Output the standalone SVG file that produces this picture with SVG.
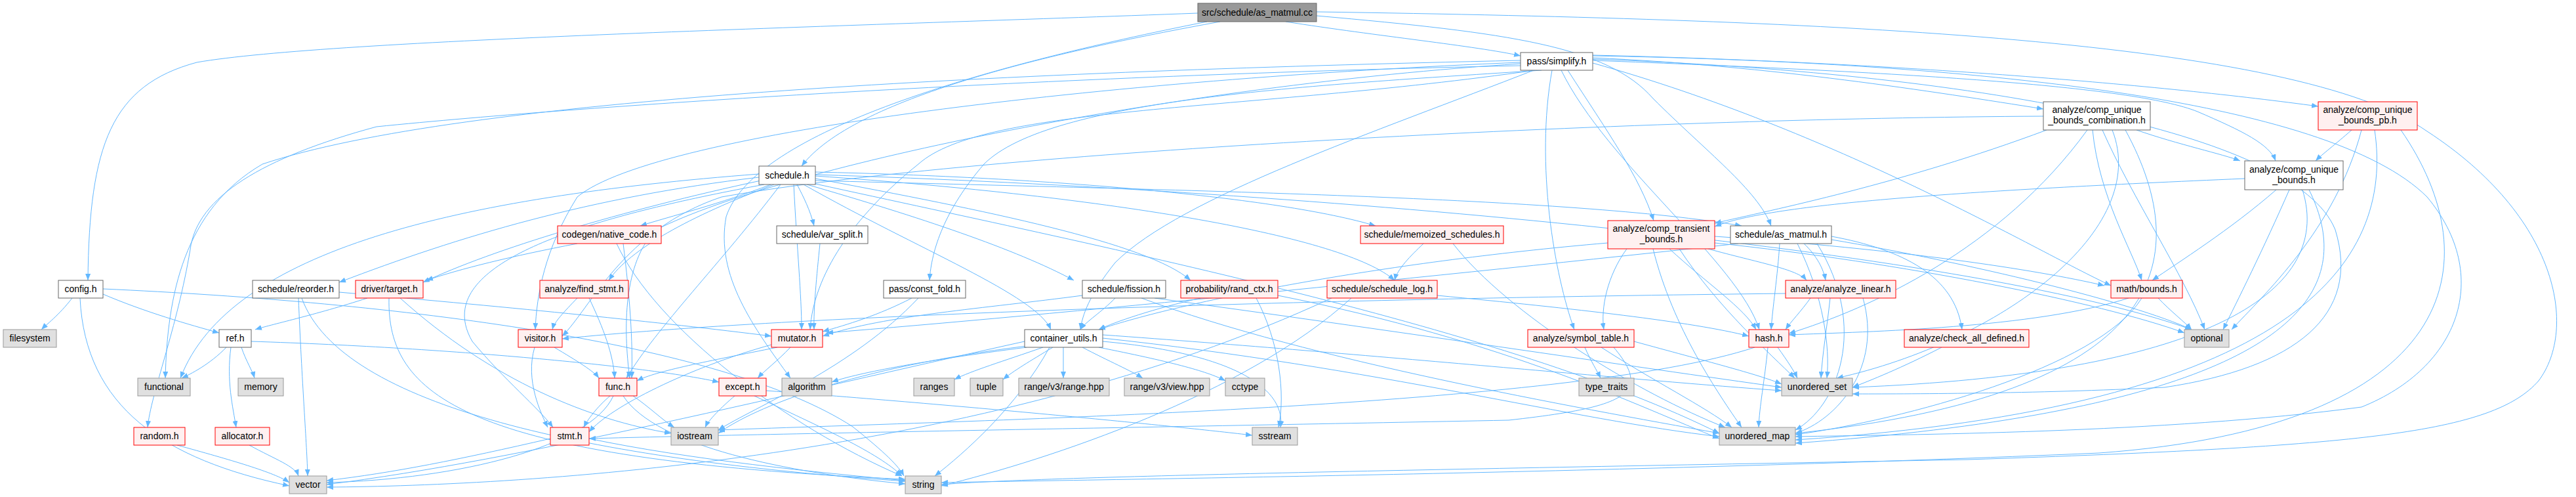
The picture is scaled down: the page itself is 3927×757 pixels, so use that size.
<svg xmlns="http://www.w3.org/2000/svg" width="3927" height="757" viewBox="0 0 3927 757">
<defs>
<marker id="a" markerWidth="10" markerHeight="8" refX="10" refY="4" orient="auto" markerUnits="userSpaceOnUse"><path d="M0,0 L10,4 L0,8 z" fill="#63b8ff"/></marker>
<style>
.e path{fill:none;stroke:#63b8ff;stroke-width:1;marker-end:url(#a)}
.w{fill:#ffffff;stroke:#666666;stroke-width:1}
.r{fill:#fff0f0;stroke:#ff0000;stroke-width:1}
.g{fill:#e0e0e0;stroke:#999999;stroke-width:1}
.k{fill:#999999;stroke:#666666;stroke-width:1}
text{font-family:"Liberation Sans",Arial,sans-serif;font-size:14px;text-anchor:middle;fill:#000000}
</style>
</defs>
<rect width="3927" height="757" fill="#ffffff"/>
<g id="edges" class="e">
<path d="M1826,20 C1300,40 500,60 300,95 C170,130 136,220 134,427"/>
<path d="M1860,33 C1600,80 1300,150 1222,253"/>
<path d="M1960,33 C2100,55 2250,70 2318,85"/>
<path d="M2007,24 C2300,50 2450,70 2520,150 C2600,230 2680,290 2700,344"/>
<path d="M1840,33 C1500,100 1150,200 1107,330 C1090,420 1150,500 1205,576"/>
<path d="M2007,18 C2800,30 3500,60 3700,200 C3900,330 3930,500 3870,580 C3800,660 3600,680 3000,700 C2200,715 1600,725 1435,738"/>
<path d="M2318,92 C1500,110 700,150 400,250 C280,320 255,450 252,576"/>
<path d="M2318,100 C1600,115 900,160 574,193 C400,240 300,300 290,380 C270,500 230,600 225,651"/>
<path d="M2318,95 C1700,120 1000,200 880,300 C830,380 818,450 816,502"/>
<path d="M2340,107 C1900,170 1500,160 1400,250 C1300,330 1240,420 1235,502"/>
<path d="M2318,97 C1800,130 1200,250 1000,350 C950,400 950,500 960,576"/>
<path d="M2350,107 C2000,130 1600,150 1500,250 C1440,320 1420,380 1417,427"/>
<path d="M2390,107 C2450,200 2500,270 2521,336"/>
<path d="M2428,88 C2700,100 2950,140 3115,166"/>
<path d="M2428,84 C2900,95 3300,130 3534,162"/>
<path d="M2428,92 C2900,110 3250,130 3350,170 C3420,200 3460,220 3469,245"/>
<path d="M2380,107 C2450,250 2650,400 2682,502"/>
<path d="M2428,96 C2800,200 3100,380 3218,435"/>
<path d="M2366,107 C2340,250 2370,420 2400,502"/>
<path d="M2428,85 C3000,95 3550,150 3700,300 C3800,420 3750,560 3600,620 C3300,660 2900,662 2737,665"/>
<path d="M2428,90 C3000,110 3500,200 3560,350 C3600,480 3500,560 3300,590 C3100,600 2900,600 2824,600"/>
<path d="M2338,107 C2100,200 1800,300 1700,400 C1660,450 1650,480 1647,502"/>
<path d="M3120,198 C2900,280 2700,320 2614,340"/>
<path d="M3257,198 C3320,220 3390,235 3415,245"/>
<path d="M3190,198 C3200,300 3250,380 3265,427"/>
<path d="M3182,198 C3050,380 2850,470 2727,508"/>
<path d="M3205,198 C3250,300 3330,420 3361,502"/>
<path d="M3220,198 C3280,350 3050,520 2800,576"/>
<path d="M3240,198 C3350,400 3300,600 2737,660"/>
<path d="M3115,177 C2500,180 1500,230 1100,300 C950,350 900,470 857,512"/>
<path d="M3585,198 C3560,220 3540,235 3530,245"/>
<path d="M3600,198 C3560,350 3450,450 3402,502"/>
<path d="M3620,198 C3650,400 3500,620 2737,670"/>
<path d="M3660,198 C3800,400 3750,650 3200,690 C2500,720 1700,730 1435,735"/>
<path d="M3422,272 C3000,290 2700,310 2614,345"/>
<path d="M3470,289 C3400,350 3320,400 3281,427"/>
<path d="M3490,289 C3450,380 3410,460 3389,502"/>
<path d="M3520,289 C3600,450 3500,620 2737,675"/>
<path d="M3510,289 C3560,450 3350,570 2824,590"/>
<path d="M1175,281 C1100,310 1020,330 976,344"/>
<path d="M1215,281 C1225,300 1235,320 1241,344"/>
<path d="M1243,262 C1600,270 1950,300 2097,344"/>
<path d="M1157,270 C900,300 700,360 517,430"/>
<path d="M1160,275 C950,320 750,380 645,430"/>
<path d="M1180,281 C1050,330 960,380 928,427"/>
<path d="M1230,281 C1400,330 1550,380 1637,427"/>
<path d="M1243,272 C1500,320 1750,370 1815,427"/>
<path d="M1243,268 C1700,300 2050,360 2126,427"/>
<path d="M1157,265 C700,300 350,380 275,576"/>
<path d="M1190,281 C1100,400 1000,500 955,576"/>
<path d="M1165,281 C900,330 650,400 720,520 C770,580 820,620 843,651"/>
<path d="M1243,275 C1800,290 2400,300 2655,344"/>
<path d="M1225,281 C1400,380 1580,450 1602,502"/>
<path d="M1243,280 C1700,380 2300,500 2621,660"/>
<path d="M1210,281 C1215,380 1222,450 1222,502"/>
<path d="M1243,266 C2000,290 3000,380 3341,502"/>
<path d="M880,371 C780,390 700,410 650,427"/>
<path d="M950,371 C960,450 965,520 963,576"/>
<path d="M940,371 C1000,500 1200,650 1375,725"/>
<path d="M1250,371 C1245,420 1240,470 1241,502"/>
<path d="M2170,371 C2150,390 2130,410 2126,427"/>
<path d="M2215,371 C2300,480 2500,600 2630,651"/>
<path d="M2480,379 C2450,420 2440,470 2445,502"/>
<path d="M2545,379 C2600,430 2660,470 2677,502"/>
<path d="M2604,379 C2680,400 2740,410 2754,427"/>
<path d="M2560,379 C2620,470 2700,540 2736,576"/>
<path d="M2520,379 C2550,500 2620,600 2655,651"/>
<path d="M2614,360 C2900,380 3100,410 3208,435"/>
<path d="M2614,370 C2900,400 3200,460 3330,507"/>
<path d="M2451,370 C2100,400 1800,460 1675,502"/>
<path d="M2750,371 C2770,390 2780,410 2783,427"/>
<path d="M2713,371 C2710,420 2702,470 2700,502"/>
<path d="M2792,360 C2900,380 2980,420 2991,502"/>
<path d="M2650,371 C2200,420 1600,480 1260,507"/>
<path d="M2740,371 C2780,450 2790,530 2785,576"/>
<path d="M2770,371 C2850,500 2800,620 2737,655"/>
<path d="M2792,365 C3000,400 3250,460 3341,502"/>
<path d="M110,454 C90,480 70,495 63,502"/>
<path d="M157,448 C220,475 290,495 334,507"/>
<path d="M122,454 C130,620 250,700 441,740"/>
<path d="M157,440 C600,460 1100,520 1300,650 C1350,690 1370,710 1378,725"/>
<path d="M455,454 C460,580 468,680 469,725"/>
<path d="M460,454 C520,620 900,700 1380,733"/>
<path d="M517,445 C800,470 1000,490 1176,512"/>
<path d="M560,454 C480,480 410,495 389,502"/>
<path d="M593,454 C590,600 700,700 1380,730"/>
<path d="M610,454 C750,580 900,640 1023,660"/>
<path d="M880,454 C860,475 845,490 842,502"/>
<path d="M898,454 C920,500 935,540 937,576"/>
<path d="M1390,454 C1340,480 1290,495 1254,505"/>
<path d="M1400,454 C1300,560 1150,620 1095,655"/>
<path d="M1700,454 C1680,475 1655,490 1647,502"/>
<path d="M1650,450 C1500,470 1350,480 1254,512"/>
<path d="M1760,454 C2100,500 2500,560 2716,590"/>
<path d="M1740,454 C2000,550 2400,620 2621,660"/>
<path d="M1830,454 C1760,470 1700,490 1675,502"/>
<path d="M1915,454 C1950,520 1960,600 1949,651"/>
<path d="M1948,450 C2300,520 2500,620 2621,668"/>
<path d="M2191,450 C2400,470 2580,490 2666,512"/>
<path d="M2060,454 C1900,600 1600,700 1435,740"/>
<path d="M2030,454 C1500,700 800,740 498,742"/>
<path d="M2760,454 C2745,475 2730,490 2722,502"/>
<path d="M2790,454 C2785,500 2778,540 2776,576"/>
<path d="M2840,454 C2870,560 2800,640 2737,660"/>
<path d="M2722,447 C2000,455 1200,480 857,516"/>
<path d="M3290,454 C3310,475 3330,490 3341,502"/>
<path d="M3245,454 C3100,500 2850,505 2727,510"/>
<path d="M3265,454 C3200,560 2900,640 2737,662"/>
<path d="M345,529 C320,555 290,570 277,576"/>
<path d="M368,529 C375,550 385,565 388,576"/>
<path d="M352,529 C345,580 355,620 360,651"/>
<path d="M383,520 C700,530 1000,560 1096,582"/>
<path d="M815,529 C800,580 825,630 835,651"/>
<path d="M845,529 C880,550 905,565 913,576"/>
<path d="M1176,525 C1050,560 930,620 898,658"/>
<path d="M1185,529 C1080,550 1000,565 971,580"/>
<path d="M1205,529 C1185,550 1165,565 1155,576"/>
<path d="M1565,529 C1400,550 1300,570 1268,582"/>
<path d="M1590,529 C1530,550 1480,565 1455,578"/>
<path d="M1605,529 C1570,550 1545,565 1529,578"/>
<path d="M1621,529 L1621,576"/>
<path d="M1650,529 C1690,550 1725,565 1742,576"/>
<path d="M1675,529 C1780,550 1840,565 1868,580"/>
<path d="M1565,527 C1300,560 1150,620 1095,660"/>
<path d="M1681,520 C1900,540 1960,600 1952,651"/>
<path d="M1600,529 C1550,620 1470,690 1425,725"/>
<path d="M1562,520 C1200,600 800,700 498,738"/>
<path d="M1681,510 C2100,540 2500,580 2716,595"/>
<path d="M1681,515 C2100,560 2400,640 2621,665"/>
<path d="M2416,529 C2425,550 2435,565 2440,576"/>
<path d="M2441,529 C2520,580 2600,620 2640,651"/>
<path d="M2491,520 C2600,550 2680,570 2716,585"/>
<path d="M2460,529 C2520,600 2480,620 2300,640 C1800,650 1200,660 898,668"/>
<path d="M2710,529 C2725,550 2735,565 2740,576"/>
<path d="M2695,529 C2690,580 2682,620 2681,651"/>
<path d="M2675,529 C2400,620 1500,640 1095,655"/>
<path d="M2960,529 C2900,560 2850,580 2824,590"/>
<path d="M930,603 C910,620 895,640 890,651"/>
<path d="M935,603 C900,680 700,730 498,735"/>
<path d="M950,603 C1000,680 1200,720 1380,737"/>
<path d="M965,603 C990,620 1010,640 1028,651"/>
<path d="M1150,603 C1250,650 1340,690 1375,725"/>
<path d="M1168,595 C1500,620 1800,650 1909,663"/>
<path d="M1120,603 C1100,620 1080,640 1075,651"/>
<path d="M270,678 C350,700 420,720 441,735"/>
<path d="M380,678 C420,700 450,710 455,725"/>
<path d="M839,668 C700,700 600,720 498,732"/>
<path d="M898,668 C1050,700 1250,720 1380,732"/>
</g>
<g id="n1"><rect class="k" x="1826" y="5" width="181" height="28"/><text x="1916.5" y="24">src/schedule/as_matmul.cc</text></g>
<g id="n2"><rect class="w" x="2318" y="80" width="110" height="27"/><text x="2373" y="98">pass/simplify.h</text></g>
<g id="n3"><rect class="w" x="3115" y="155" width="163" height="43"/><text x="3196.5" y="172">analyze/comp_unique</text><text x="3196.5" y="188">_bounds_combination.h</text></g>
<g id="n4"><rect class="r" x="3534" y="155" width="151" height="43"/><text x="3609.5" y="172">analyze/comp_unique</text><text x="3609.5" y="188">_bounds_pb.h</text></g>
<g id="n5"><rect class="w" x="1157" y="253" width="86" height="28"/><text x="1200" y="272">schedule.h</text></g>
<g id="n6"><rect class="w" x="3422" y="245" width="150" height="44"/><text x="3497" y="263">analyze/comp_unique</text><text x="3497" y="279">_bounds.h</text></g>
<g id="n7"><rect class="r" x="850" y="344" width="158" height="27"/><text x="929" y="362">codegen/native_code.h</text></g>
<g id="n8"><rect class="w" x="1184" y="344" width="139" height="27"/><text x="1253.5" y="362">schedule/var_split.h</text></g>
<g id="n9"><rect class="r" x="2074" y="344" width="218" height="27"/><text x="2183" y="362">schedule/memoized_schedules.h</text></g>
<g id="n10"><rect class="r" x="2451" y="336" width="163" height="43"/><text x="2532.5" y="353">analyze/comp_transient</text><text x="2532.5" y="369">_bounds.h</text></g>
<g id="n11"><rect class="w" x="2638" y="344" width="154" height="27"/><text x="2715" y="362">schedule/as_matmul.h</text></g>
<g id="n12"><rect class="w" x="89" y="427" width="68" height="27"/><text x="123" y="445">config.h</text></g>
<g id="n13"><rect class="w" x="385" y="427" width="132" height="27"/><text x="451" y="445">schedule/reorder.h</text></g>
<g id="n14"><rect class="r" x="542" y="427" width="103" height="27"/><text x="593.5" y="445">driver/target.h</text></g>
<g id="n15"><rect class="r" x="823" y="427" width="135" height="27"/><text x="890.5" y="445">analyze/find_stmt.h</text></g>
<g id="n16"><rect class="w" x="1347" y="427" width="125" height="27"/><text x="1409.5" y="445">pass/const_fold.h</text></g>
<g id="n17"><rect class="w" x="1650" y="427" width="127" height="27"/><text x="1713.5" y="445">schedule/fission.h</text></g>
<g id="n18"><rect class="r" x="1800" y="427" width="148" height="27"/><text x="1874" y="445">probability/rand_ctx.h</text></g>
<g id="n19"><rect class="r" x="2023" y="427" width="168" height="27"/><text x="2107" y="445">schedule/schedule_log.h</text></g>
<g id="n20"><rect class="r" x="2722" y="427" width="168" height="27"/><text x="2806" y="445">analyze/analyze_linear.h</text></g>
<g id="n21"><rect class="r" x="3218" y="427" width="109" height="27"/><text x="3272.5" y="445">math/bounds.h</text></g>
<g id="n22"><rect class="g" x="5" y="502" width="81" height="27"/><text x="45.5" y="520">filesystem</text></g>
<g id="n23"><rect class="w" x="334" y="502" width="49" height="27"/><text x="358.5" y="520">ref.h</text></g>
<g id="n24"><rect class="r" x="790" y="502" width="67" height="27"/><text x="823.5" y="520">visitor.h</text></g>
<g id="n25"><rect class="r" x="1176" y="502" width="78" height="27"/><text x="1215" y="520">mutator.h</text></g>
<g id="n26"><rect class="w" x="1562" y="502" width="119" height="27"/><text x="1621.5" y="520">container_utils.h</text></g>
<g id="n27"><rect class="r" x="2329" y="502" width="162" height="27"/><text x="2410" y="520">analyze/symbol_table.h</text></g>
<g id="n28"><rect class="r" x="2666" y="502" width="61" height="27"/><text x="2696.5" y="520">hash.h</text></g>
<g id="n29"><rect class="r" x="2903" y="502" width="190" height="27"/><text x="2998" y="520">analyze/check_all_defined.h</text></g>
<g id="n30"><rect class="g" x="3330" y="502" width="68" height="27"/><text x="3364" y="520">optional</text></g>
<g id="n31"><rect class="g" x="210" y="576" width="80" height="27"/><text x="250" y="594">functional</text></g>
<g id="n32"><rect class="g" x="363" y="576" width="69" height="27"/><text x="397.5" y="594">memory</text></g>
<g id="n33"><rect class="r" x="913" y="576" width="58" height="27"/><text x="942" y="594">func.h</text></g>
<g id="n34"><rect class="r" x="1096" y="576" width="72" height="27"/><text x="1132" y="594">except.h</text></g>
<g id="n35"><rect class="g" x="1192" y="576" width="76" height="27"/><text x="1230" y="594">algorithm</text></g>
<g id="n36"><rect class="g" x="1393" y="576" width="62" height="27"/><text x="1424" y="594">ranges</text></g>
<g id="n37"><rect class="g" x="1479" y="576" width="50" height="27"/><text x="1504" y="594">tuple</text></g>
<g id="n38"><rect class="g" x="1553" y="576" width="138" height="27"/><text x="1622" y="594">range/v3/range.hpp</text></g>
<g id="n39"><rect class="g" x="1714" y="576" width="130" height="27"/><text x="1779" y="594">range/v3/view.hpp</text></g>
<g id="n40"><rect class="g" x="1868" y="576" width="60" height="27"/><text x="1898" y="594">cctype</text></g>
<g id="n41"><rect class="g" x="2407" y="576" width="84" height="27"/><text x="2449" y="594">type_traits</text></g>
<g id="n42"><rect class="g" x="2716" y="576" width="108" height="27"/><text x="2770" y="594">unordered_set</text></g>
<g id="n43"><rect class="r" x="204" y="651" width="78" height="27"/><text x="243" y="669">random.h</text></g>
<g id="n44"><rect class="r" x="328" y="651" width="83" height="27"/><text x="369.5" y="669">allocator.h</text></g>
<g id="n45"><rect class="r" x="839" y="651" width="59" height="27"/><text x="868.5" y="669">stmt.h</text></g>
<g id="n46"><rect class="g" x="1023" y="651" width="72" height="27"/><text x="1059" y="669">iostream</text></g>
<g id="n47"><rect class="g" x="1909" y="651" width="69" height="27"/><text x="1943.5" y="669">sstream</text></g>
<g id="n48"><rect class="g" x="2621" y="651" width="116" height="27"/><text x="2679" y="669">unordered_map</text></g>
<g id="n49"><rect class="g" x="441" y="725" width="57" height="27"/><text x="469.5" y="743">vector</text></g>
<g id="n50"><rect class="g" x="1380" y="725" width="55" height="27"/><text x="1407.5" y="743">string</text></g>
</svg>
